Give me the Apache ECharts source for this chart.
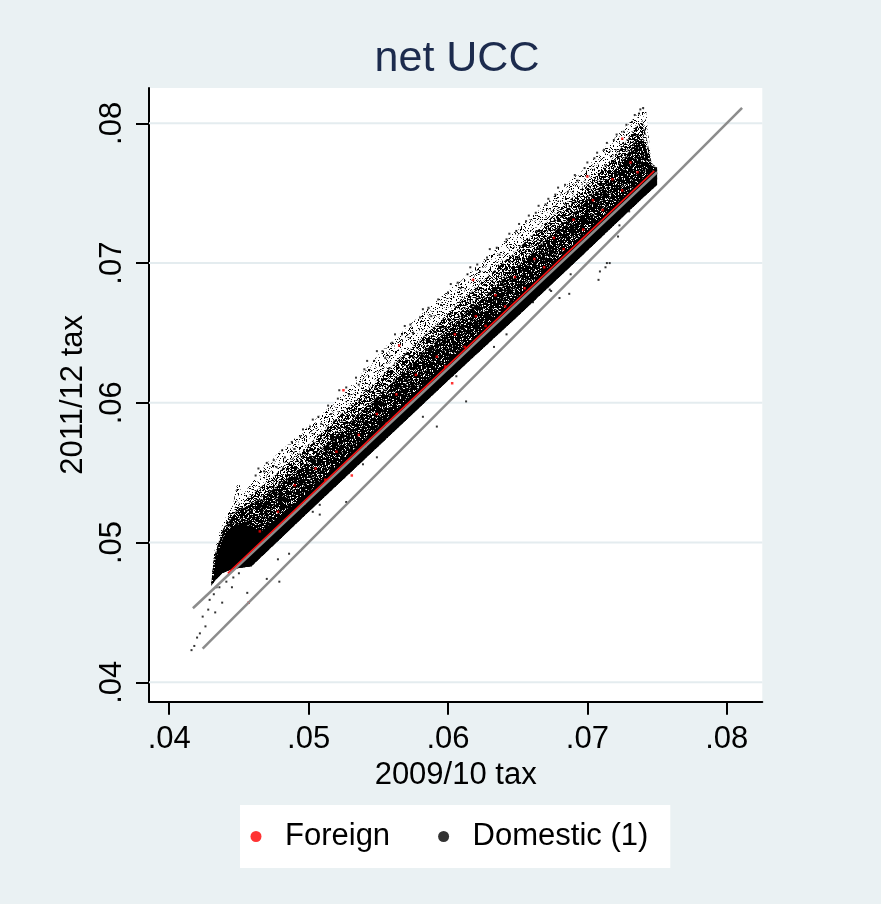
<!DOCTYPE html>
<html>
<head>
<meta charset="utf-8">
<script src="https://cdn.jsdelivr.net/npm/echarts@6.0.0/dist/echarts.min.js"></script>
<style>
html,body{margin:0;padding:0;background:#eaf1f3;}
#chart{width:881px;height:904px;}
</style>
</head>
<body>
<div id="chart"></div>
<script>
// ---- axis ticks ----
const xTicks = [0.04, 0.05, 0.06, 0.07, 0.08];
const yTicks = [0.04, 0.05, 0.06, 0.07, 0.08];
const xRange = [0.03855, 0.08255];
const yRange = [0.03861, 0.08253];

// ---- reference lines ----
const diagLine = [[0.0424, 0.0424], [0.0811, 0.0811]];
const domesticFit = [[0.0417, 0.0453], [0.0750, 0.0765]];
const foreignFit = [[0.0442, 0.0478], [0.0748, 0.0766]];

// ---- outlines of the point cloud at several densities ----
const cloudLower = [[0.0750,0.0756],[0.0740,0.0747],[0.0700,0.0709],[0.0650,0.0662],[0.0600,0.0616],[0.0550,0.0569],[0.0500,0.0522],[0.0459,0.0483],[0.0445,0.0481],[0.0438,0.0478],[0.0433,0.0473]];
const fringeUpper = [[0.0430,0.0469],[0.0432,0.0492],[0.0436,0.0507],[0.0441,0.0519],[0.0446,0.0527],[0.0448,0.0541],[0.0451,0.0541],[0.0453,0.0534],[0.0467,0.0554],[0.0496,0.0580],[0.0525,0.0606],[0.0555,0.0640],[0.0584,0.0666],[0.0622,0.0699],[0.0672,0.0744],[0.0701,0.0771],[0.0727,0.0797],[0.0737,0.0808],[0.0742,0.0811],[0.0744,0.0790],[0.0746,0.0773],[0.0750,0.0767]];
const midUpper = [[0.0430,0.0469],[0.0432,0.0489],[0.0437,0.0506],[0.0442,0.0517],[0.0447,0.0525],[0.0460,0.0535],[0.0480,0.0552],[0.0500,0.0570],[0.0550,0.0617],[0.0600,0.0664],[0.0650,0.0710],[0.0700,0.0757],[0.0720,0.0777],[0.0730,0.0790],[0.0736,0.0799],[0.0740,0.0800],[0.0743,0.0787],[0.0746,0.0772],[0.0750,0.0767]];
const denseUpper = [[0.0430,0.0469],[0.0432,0.0487],[0.0437,0.0504],[0.0442,0.0514],[0.0448,0.0522],[0.0460,0.0528],[0.0480,0.0542],[0.0500,0.0558],[0.0550,0.0605],[0.0600,0.0652],[0.0650,0.0698],[0.0700,0.0745],[0.0720,0.0766],[0.0730,0.0780],[0.0736,0.0789],[0.0740,0.0789],[0.0743,0.0779],[0.0746,0.0770],[0.0750,0.0767]];
const solidUpper = [[0.0431,0.0470],[0.0434,0.0489],[0.0438,0.0502],[0.0442,0.0509],[0.0450,0.0513],[0.0458,0.0512],[0.0466,0.0508],[0.0500,0.0536],[0.0550,0.0583],[0.0600,0.0630],[0.0650,0.0676],[0.0700,0.0723],[0.0740,0.0761],[0.0750,0.0769]];

// ---- individual visible points ----
const domesticFringe = [
[0.0462,0.0548],[0.0464,0.0553],[0.0468,0.0551],[0.0470,0.0557],[0.0475,0.0559],[0.0477,0.0554],[0.0481,0.0566],[0.0483,0.0561],
[0.0488,0.0572],[0.0490,0.0567],[0.0494,0.0576],[0.0496,0.0581],[0.0501,0.0583],[0.0503,0.0588],[0.0507,0.0590],[0.0509,0.0585],
[0.0514,0.0598],[0.0516,0.0592],[0.0521,0.0603],[0.0522,0.0609],[0.0527,0.0611],[0.0529,0.0606],[0.0534,0.0618],[0.0536,0.0613],
[0.0540,0.0624],[0.0542,0.0630],[0.0547,0.0630],[0.0549,0.0637],[0.0553,0.0637],[0.0555,0.0632],[0.0560,0.0643],[0.0562,0.0649],
[0.0567,0.0649],[0.0569,0.0655],[0.0573,0.0656],[0.0575,0.0650],[0.0580,0.0661],[0.0582,0.0667],[0.0586,0.0668],[0.0588,0.0662],
[0.0593,0.0674],[0.0595,0.0670],[0.0600,0.0679],[0.0602,0.0685],[0.0607,0.0686],[0.0609,0.0682],[0.0614,0.0692],[0.0616,0.0697],
[0.0621,0.0699],[0.0623,0.0694],[0.0628,0.0704],[0.0630,0.0710],[0.0635,0.0711],[0.0637,0.0706],[0.0642,0.0717],[0.0644,0.0721],
[0.0649,0.0723],[0.0651,0.0728],[0.0656,0.0730],[0.0658,0.0734],[0.0663,0.0736],[0.0665,0.0741],[0.0670,0.0742],[0.0672,0.0746],
[0.0677,0.0749],[0.0679,0.0754],[0.0684,0.0756],[0.0686,0.0751],[0.0691,0.0763],[0.0693,0.0759],[0.0698,0.0768],[0.0700,0.0772],
[0.0705,0.0775],[0.0707,0.0779],[0.0712,0.0781],[0.0714,0.0786],[0.0719,0.0788],[0.0721,0.0792],[0.0726,0.0794],[0.0728,0.0799],
[0.0732,0.0801],[0.0734,0.0806],[0.0737,0.0807],[0.0738,0.0810],[0.0740,0.0811]
];
const domesticOutliers = [
[0.0416,0.0423],[0.0418,0.0426],[0.0420,0.0432],[0.0422,0.0435],[0.0424,0.0447],[0.0426,0.0440],[0.0428,0.0452],[0.0429,0.0459],
[0.0432,0.0463],[0.0434,0.0468],[0.0436,0.0468],[0.0441,0.0472],[0.0446,0.0475],[0.0456,0.0464],[0.0445,0.0468],[0.0438,0.0457],
[0.0433,0.0450],[0.0450,0.0478],[0.0470,0.0474],[0.0486,0.0492],[0.0478,0.0488],[0.0479,0.0472],[0.0503,0.0522],[0.0508,0.0520],
[0.0508,0.0527],[0.0527,0.0529],[0.0539,0.0556],[0.0549,0.0561],[0.0582,0.0590],[0.0592,0.0583],[0.0606,0.0619],[0.0613,0.0601],
[0.0633,0.0640],[0.0642,0.0649],[0.0661,0.0672],[0.0674,0.0680],[0.0673,0.0681],[0.0680,0.0675],[0.0688,0.0692],[0.0687,0.0678],
[0.0709,0.0694],[0.0713,0.0697],[0.0714,0.0700],[0.0716,0.0700],[0.0708,0.0688],[0.0722,0.0719],[0.0723,0.0727],[0.0730,0.0737]
];
const foreignPoints = [
[0.0448,0.0482],[0.0456,0.0490],[0.0465,0.0508],[0.0478,0.0522],[0.0490,0.0541],[0.0497,0.0528],[0.0505,0.0553],[0.0512,0.0545],
[0.0520,0.0565],[0.0528,0.0558],[0.0536,0.0577],[0.0541,0.0569],[0.0549,0.0592],[0.0556,0.0585],[0.0563,0.0606],[0.0570,0.0598],
[0.0577,0.0620],[0.0585,0.0611],[0.0592,0.0633],[0.0598,0.0626],[0.0605,0.0649],[0.0612,0.0640],[0.0620,0.0662],[0.0627,0.0655],
[0.0634,0.0677],[0.0641,0.0669],[0.0648,0.0690],[0.0655,0.0682],[0.0662,0.0703],[0.0669,0.0697],[0.0676,0.0718],[0.0683,0.0710],
[0.0690,0.0731],[0.0697,0.0724],[0.0704,0.0745],[0.0711,0.0738],[0.0718,0.0760],[0.0725,0.0752],[0.0731,0.0772],[0.0736,0.0765],
[0.0457,0.0457],[0.0525,0.0609],[0.0565,0.0641],[0.0618,0.0688],[0.0700,0.0762],[0.0725,0.0789],[0.0531,0.0548],[0.0603,0.0614]
];

// ---- speckle texture (fill style for the dense cloud areas) ----
function speckle(density, seed) {
  const n = 96;
  const c = document.createElement('canvas');
  c.width = n; c.height = n;
  const ctx = c.getContext('2d');
  const img = ctx.createImageData(n, n);
  let s = seed >>> 0;
  for (let i = 0; i < n * n; i++) {
    s = (Math.imul(s, 1664525) + 1013904223) >>> 0;
    const r = s / 4294967296;
    let v = 255;
    if (r < density) v = 0;
    else if (r < density + 0.08) v = 140;
    img.data[i * 4] = v; img.data[i * 4 + 1] = v; img.data[i * 4 + 2] = v; img.data[i * 4 + 3] = 255;
  }
  ctx.putImageData(img, 0, 0);
  return { image: c, repeat: 'repeat' };
}

// ---- build ----
function polySeries(upper, fill, z) {
  const pts = upper.concat(cloudLower);
  return {
    type: 'custom', silent: true, z: z,
    data: [pts[0]],
    renderItem: function (params, api) {
      return {
        type: 'polygon',
        shape: { points: pts.map(function (p) { return api.coord(p); }) },
        style: { fill: fill }
      };
    }
  };
}
function gridSeries(v) {
  return {
    type: 'line', silent: true, z: 1, symbol: 'none',
    data: [[xRange[0], v], [xRange[1], v]],
    lineStyle: { color: '#e4ecef', width: 2 }
  };
}
function fmt(v) { return v.toFixed(2).replace(/^0/, ''); }
const FONT = 'Liberation Sans, Arial, sans-serif';

const chart = echarts.init(document.getElementById('chart'), null, { renderer: 'canvas' });
chart.setOption({
  backgroundColor: '#eaf1f3',
  animation: false,
  title: {
    text: 'net UCC', left: 452, top: 33, textAlign: 'center',
    textStyle: { fontFamily: FONT, fontSize: 43, fontWeight: 'normal', color: '#1c2b4d' }
  },
  grid: { left: 149, right: 118.7, top: 88, bottom: 202.3, show: true, backgroundColor: '#ffffff', borderWidth: 0 },
  xAxis: {
    type: 'value', min: xRange[0], max: xRange[1],
    name: '2009/10 tax', nameLocation: 'middle', nameGap: 51.5,
    nameTextStyle: { fontFamily: FONT, fontSize: 31, color: '#000' },
    axisLine: { onZero: false, lineStyle: { color: '#000', width: 2 } },
    axisTick: { show: true, customValues: xTicks, length: 13, lineStyle: { color: '#000', width: 2 } },
    axisLabel: { customValues: xTicks, formatter: fmt, margin: 22.5, fontFamily: FONT, fontSize: 31, color: '#000' },
    splitLine: { show: false }
  },
  yAxis: {
    type: 'value', min: yRange[0], max: yRange[1],
    name: '2011/12 tax', nameLocation: 'middle', nameGap: 55,
    nameTextStyle: { fontFamily: FONT, fontSize: 31, color: '#000' },
    axisLine: { show: true, onZero: false, lineStyle: { color: '#000', width: 2 } },
    axisTick: { show: true, customValues: yTicks, length: 13, lineStyle: { color: '#000', width: 2 } },
    axisLabel: { customValues: yTicks, formatter: fmt, rotate: 90, margin: 21, fontFamily: FONT, fontSize: 31, color: '#000' },
    splitLine: { show: false }
  },
  legend: {
    data: ['Foreign', 'Domestic (1)'],
    left: 240, top: 805,
    backgroundColor: '#ffffff',
    padding: [16, 22, 16, 10.5],
    icon: 'circle', itemWidth: 11, itemHeight: 11, itemGap: 48,
    textStyle: { fontFamily: FONT, fontSize: 31, color: '#000', padding: [0, 0, 0, 18.5] }
  },
  series: yTicks.map(gridSeries).concat([
    polySeries(fringeUpper, speckle(0.15, 7), 2),
    polySeries(midUpper, speckle(0.55, 11), 2),
    polySeries(denseUpper, speckle(0.80, 23), 2),
    polySeries(solidUpper, '#000000', 2),
    {
      name: 'Domestic (1)', type: 'scatter', z: 3, symbol: 'rect', symbolSize: 2,
      itemStyle: { color: '#000000' },
      data: domesticFringe.concat(domesticOutliers)
    },
    {
      name: 'Foreign', type: 'scatter', z: 3, symbol: 'rect', symbolSize: 2.5,
      itemStyle: { color: '#ff0000' },
      data: foreignPoints
    },
    { type: 'line', z: 4, silent: true, data: diagLine, symbol: 'none', lineStyle: { color: '#8c8c8c', width: 2.5 } },
    { type: 'line', z: 4, silent: true, data: domesticFit, symbol: 'none', lineStyle: { color: '#8c8c8c', width: 2.5 } },
    { type: 'line', z: 5, silent: true, data: foreignFit, symbol: 'none', lineStyle: { color: '#ff1010', width: 1.5 } }
  ])
});
</script>
</body>
</html>
